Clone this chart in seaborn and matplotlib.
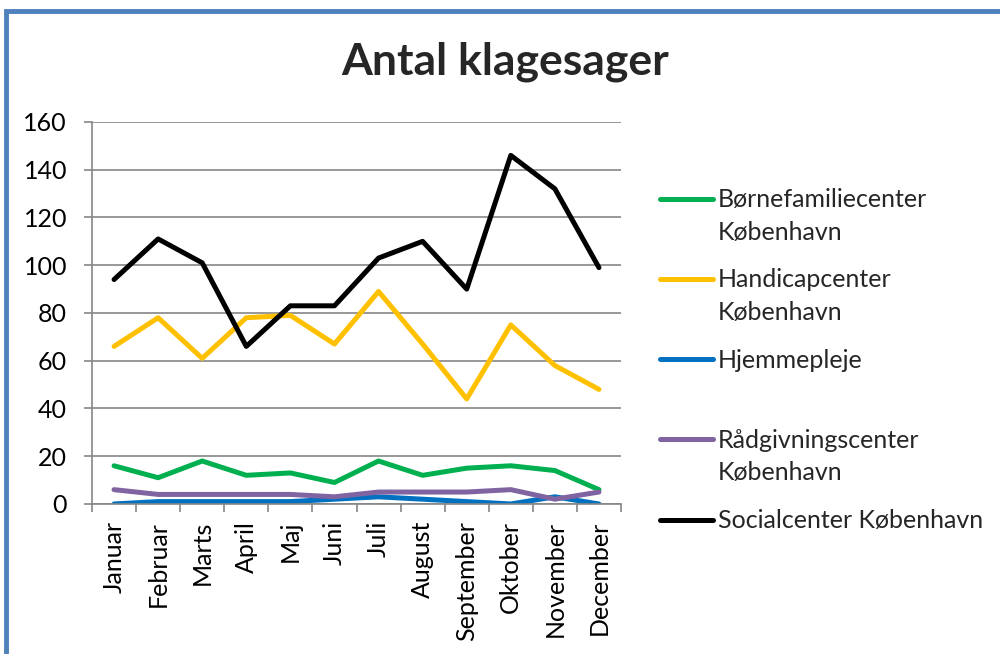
import matplotlib
matplotlib.use("Agg")
import matplotlib.pyplot as plt
import seaborn as sns
import pandas as pd
from matplotlib.patches import Rectangle

months = ["Januar", "Februar", "Marts", "April", "Maj", "Juni", "Juli",
          "August", "September", "Oktober", "November", "December"]
series_names = ["Børnefamiliecenter\nKøbenhavn", "Handicapcenter\nKøbenhavn",
                "Hjemmepleje\n ", "Rådgivningscenter\nKøbenhavn",
                "Socialcenter København\n "]
boernefamilie = [16, 11, 18, 12, 13, 9, 18, 12, 15, 16, 14, 6]
handicap = [66, 78, 61, 78, 79, 67, 89, 67, 44, 75, 58, 48]
hjemmepleje = [0, 1, 1, 1, 1, 2, 3, 2, 1, 0, 3, 0]
raadgivning = [6, 4, 4, 4, 4, 3, 5, 5, 5, 6, 2, 5]
social = [94, 111, 101, 66, 83, 83, 103, 110, 90, 146, 132, 99]
colors = ["#00b050", "#ffc000", "#0070c0", "#8064a2", "#000000"]
yticks = [0, 20, 40, 60, 80, 100, 120, 140, 160]

sns.set_theme(style="white")
plt.rcParams["font.family"] = ["Lato", "DejaVu Sans"]

rows = []
for name, vals in zip(series_names, [boernefamilie, handicap, hjemmepleje, raadgivning, social]):
    for m, v in zip(months, vals):
        rows.append({"Måned": m, "Antal": v, "Center": name})
df = pd.DataFrame(rows)

fig = plt.figure(figsize=(10, 6.54), dpi=100)
ax = fig.add_axes([0.092, 0.2294, 0.529, 0.5841])
sns.lineplot(data=df, x="Måned", y="Antal", hue="Center", palette=colors,
             linewidth=3.6, ax=ax, sort=False)
ax.set_xlim(-0.5, 11.5)
ax.set_ylim(0, 160)
ax.set_yticks(yticks)
ax.set_xticks(range(len(months)))
ax.set_xticklabels(months, rotation=90, fontsize=18)
ax.tick_params(axis="y", left=True, labelsize=18, labelcolor="black", color="#868686",
               length=6, width=1.2, direction="out", pad=12)
ax.tick_params(axis="x", which="major", bottom=True, length=0, pad=12, labelcolor="black")
ax.set_xticks([i - 0.5 for i in range(len(months) + 1)], minor=True)
ax.tick_params(axis="x", which="minor", bottom=True, length=6, color="#868686",
               width=1.2, direction="out")
ax.grid(axis="y", color="#868686", linewidth=1.2)
ax.set_axisbelow(True)
for s in ["top", "right"]:
    ax.spines[s].set_visible(False)
for s in ["left", "bottom"]:
    ax.spines[s].set_color("#868686")
    ax.spines[s].set_linewidth(1.2)
ax.set_xlabel("")
ax.set_ylabel("")

fig.text(0.505, 0.905, "Antal klagesager", ha="center", va="center",
         fontsize=32, fontweight="bold")

leg = ax.legend(loc="upper left", bbox_to_anchor=(1.032, 0.886), frameon=False,
                fontsize=18, handlelength=2.1, handletextpad=0.2,
                labelspacing=0.99, handleheight=1.2, borderpad=0.4)
for line in leg.get_lines():
    line.set_linewidth(3.6)
for t in leg.get_texts():
    t.set_linespacing(1.5)
for vp in leg._legend_handle_box.get_children():
    for hp in vp.get_children():
        hp.align = "top"

fig.patches.append(Rectangle((0.006, -0.1), 1.2, 1.083, transform=fig.transFigure,
                             fill=False, edgecolor="#4f81bd", linewidth=3.5))

fig.savefig("out.png", dpi=100)
